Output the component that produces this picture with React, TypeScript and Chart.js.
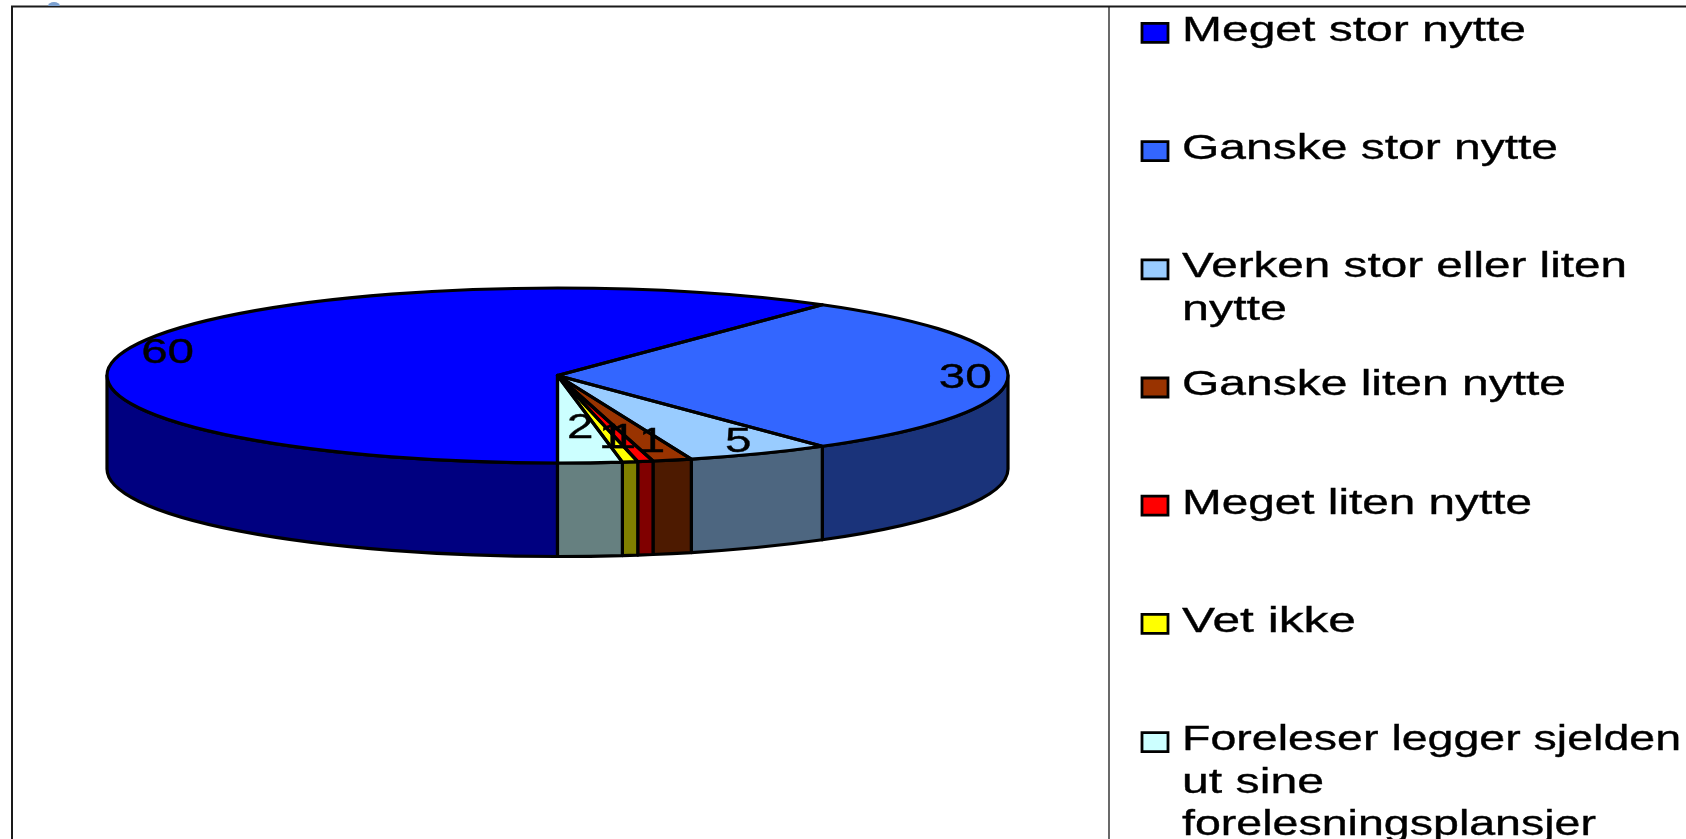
import React, { useEffect, useRef } from "react";
import { Chart, registerables } from "chart.js";

Chart.register(...registerables);

const categories = [
  "Meget stor nytte",
  "Ganske stor nytte",
  "Verken stor eller liten nytte",
  "Ganske liten nytte",
  "Meget liten nytte",
  "Vet ikke",
  "Foreleser legger sjelden ut sine forelesningsplansjer",
];
const legendLines = [
  ["Meget stor nytte"],
  ["Ganske stor nytte"],
  ["Verken stor eller liten", "nytte"],
  ["Ganske liten nytte"],
  ["Meget liten nytte"],
  ["Vet ikke"],
  ["Foreleser legger sjelden", "ut sine", "forelesningsplansjer"],
];
const values = [60, 30, 5.2, 1.4, 0.55, 0.55, 2.3];
const topColors = ["#0000FF", "#3366FF", "#99CCFF", "#993300", "#FF0000", "#FFFF00", "#CCFFFF"];
const wallColors = ["#000080", "#1A337A", "#4D6680", "#4D1A00", "#800000", "#808000", "#668080"];

// Styling constants
const CX = 557.5;
const CY = 375.5;
const RX = 450.5;
const RY = 87.5;
const WALL = 93.5;
const LINE = 3.2;
const FONT_PX = 35;
const LABEL_STRETCH = 1.36;
// Rendered width of each legend line, in pixels
const legendWidths = [
  [344],
  [376],
  [445, 105],
  [384],
  [350],
  [174],
  [499, 142, 414],
];
// Data label offset, as fractions of the ellipse radii along the slice's mid angle
const labelFx = [0.91, 0.905, 0.895, 0.823, 0.744, 0.751, 0.7];
const labelFy = [0.91, 0.905, 0.818, 0.756, 0.7, 0.694, 0.573];

const squash = (ctx: CanvasRenderingContext2D) => {
  ctx.translate(CX, CY);
  ctx.scale(1, RY / RX);
  ctx.translate(-CX, -CY);
};

const stretchedText = (
  ctx: CanvasRenderingContext2D,
  text: string,
  x: number,
  baseline: number,
  align: CanvasTextAlign,
  stretch: number | null,
  width?: number
) => {
  ctx.save();
  ctx.font = `${FONT_PX}px "Liberation Sans", Arial, sans-serif`;
  ctx.fillStyle = "#000";
  ctx.strokeStyle = "#000";
  ctx.lineWidth = 0.35;
  ctx.textAlign = align;
  ctx.textBaseline = "alphabetic";
  const sx = stretch ?? (width as number) / ctx.measureText(text).width;
  ctx.translate(x, baseline);
  ctx.scale(sx, 1);
  ctx.fillText(text, 0, 0);
  ctx.strokeText(text, 0, 0);
  ctx.restore();
};

const pie3d = {
  id: "pie3d",
  beforeDatasetsDraw(chart: any) {
    const ctx: CanvasRenderingContext2D = chart.ctx;
    // plot frame
    ctx.save();
    ctx.strokeStyle = "#1a1a1a";
    ctx.lineWidth = 2;
    ctx.beginPath();
    ctx.moveTo(12, 839);
    ctx.lineTo(12, 6.5);
    ctx.lineTo(1686, 6.5);
    ctx.stroke();
    ctx.lineWidth = 1.3;
    ctx.beginPath();
    ctx.moveTo(1109, 6.5);
    ctx.lineTo(1109, 839);
    ctx.stroke();
    // small mark above the frame
    ctx.fillStyle = "#7BA0D0";
    ctx.beginPath();
    ctx.ellipse(54, 6, 6, 4, 0, Math.PI, 2 * Math.PI);
    ctx.fill();
    ctx.restore();

    // side walls: the front half of the disc, canvas angles 0..PI
    const arcs = chart.getDatasetMeta(0).data;
    arcs.forEach((arc: any, i: number) => {
      for (const shift of [0, 2 * Math.PI]) {
        const s = Math.max(arc.startAngle, shift);
        const e = Math.min(arc.endAngle, shift + Math.PI);
        if (e <= s) continue;
        ctx.save();
        ctx.beginPath();
        ctx.save();
        squash(ctx);
        ctx.arc(arc.x, arc.y, arc.outerRadius, s, e);
        ctx.restore();
        ctx.save();
        ctx.translate(0, WALL);
        squash(ctx);
        ctx.arc(arc.x, arc.y, arc.outerRadius, e, s, true);
        ctx.restore();
        ctx.closePath();
        ctx.fillStyle = wallColors[i];
        ctx.fill();
        ctx.strokeStyle = "#000";
        ctx.lineWidth = LINE;
        ctx.lineJoin = "round";
        ctx.stroke();
        ctx.restore();
      }
    });
    ctx.save();
    squash(ctx);
  },
  afterDatasetsDraw(chart: any) {
    const ctx: CanvasRenderingContext2D = chart.ctx;
    ctx.restore();
    const arcs = chart.getDatasetMeta(0).data;
    arcs.forEach((arc: any) => {
      ctx.save();
      ctx.beginPath();
      ctx.save();
      squash(ctx);
      ctx.moveTo(arc.x, arc.y);
      ctx.arc(arc.x, arc.y, arc.outerRadius, arc.startAngle, arc.endAngle);
      ctx.closePath();
      ctx.restore();
      ctx.strokeStyle = "#000";
      ctx.lineWidth = LINE;
      ctx.lineJoin = "round";
      ctx.stroke();
      ctx.restore();
    });

    // data labels
    arcs.forEach((arc: any, i: number) => {
      const mid = (arc.startAngle + arc.endAngle) / 2;
      const x = arc.x + labelFx[i] * arc.outerRadius * Math.cos(mid);
      const y = arc.y + labelFy[i] * arc.outerRadius * (RY / RX) * Math.sin(mid);
      const text = String(Math.round(chart.data.datasets[0].data[i]));
      stretchedText(ctx, text, x, y + 12.5, "center", LABEL_STRETCH);
    });

    // legend
    legendLines.forEach((lines, i) => {
      const baseline = 40.7 + 118.2 * i;
      ctx.save();
      ctx.fillStyle = topColors[i];
      ctx.strokeStyle = "#000";
      ctx.lineWidth = 2.8;
      ctx.beginPath();
      ctx.rect(1142, baseline - 17.3, 26, 19);
      ctx.fill();
      ctx.stroke();
      ctx.restore();
      lines.forEach((line, j) =>
        stretchedText(ctx, line, 1182, baseline + j * 42.6, "left", null, legendWidths[i][j])
      );
    });
  },
};

export default function App() {
  const ref = useRef<HTMLCanvasElement>(null);
  useEffect(() => {
    document.body.style.margin = "0";
    document.body.style.overflow = "hidden";
    const chart = new Chart(ref.current!, {
      type: "pie",
      data: {
        labels: categories,
        datasets: [
          {
            data: values,
            backgroundColor: topColors,
            borderWidth: 0,
            clip: false,
          } as any,
        ],
      },
      options: {
        responsive: false,
        animation: false,
        rotation: 180,
        radius: RX,
        layout: {
          padding: { left: 0, top: 0, right: 1686 - 2 * CX, bottom: 839 - 2 * CY },
        },
        plugins: { legend: { display: false }, tooltip: { enabled: false }, title: { display: false } },
      } as any,
      plugins: [pie3d],
    });
    return () => chart.destroy();
  }, []);
  return <canvas ref={ref} width={1686} height={839} style={{ display: "block", background: "#fff" }} />;
}
